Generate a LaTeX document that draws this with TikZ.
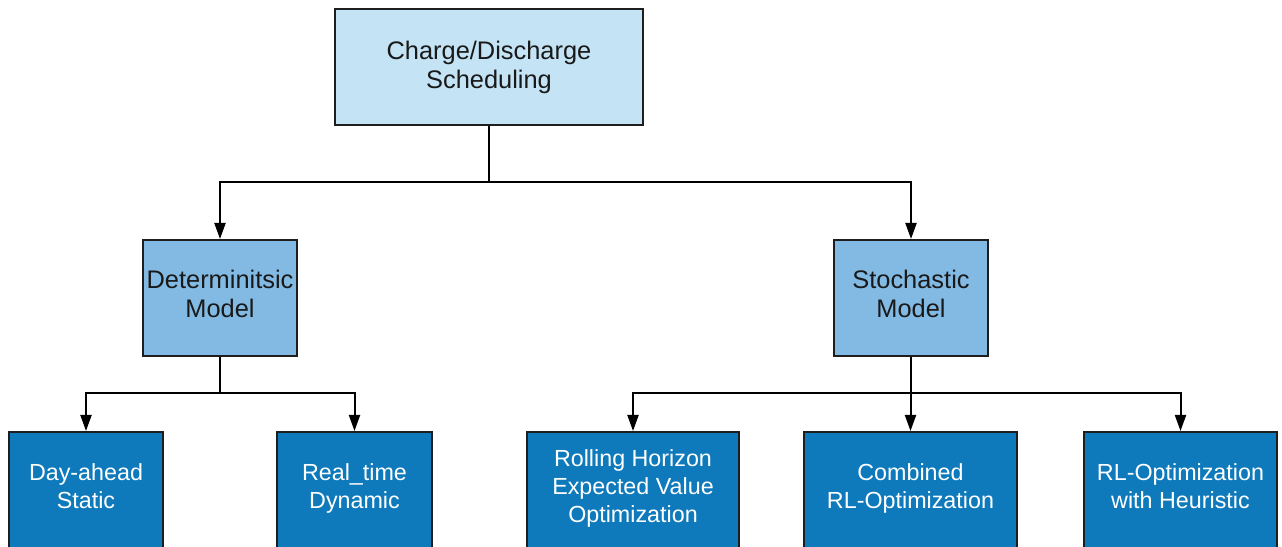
\documentclass[tikz,border=0pt]{standalone}
\usepackage{fontspec}
\setmainfont{Liberation Sans}
\usetikzlibrary{arrows.meta}
\definecolor{topfill}{RGB}{196,228,245}
\definecolor{midfill}{RGB}{131,186,228}
\definecolor{lowfill}{RGB}{14,122,188}
\definecolor{edge}{RGB}{30,30,30}
\newcommand\liftup[2][1.5pt]{\raisebox{#1}[\height][\depth]{\begin{tabular}{@{}c@{}}#2\end{tabular}}}
\tikzset{
  box/.style={draw=edge, line width=2pt, inner sep=0pt, align=center, minimum height=116pt},
  topbox/.style={box, fill=topfill, font=\fontsize{25.4}{29}\selectfont, text=black!90},
  midbox/.style={box, fill=midfill, font=\fontsize{25.4}{29.5}\selectfont, text=black!90},
  lowbox/.style={box, fill=lowfill, font=\fontsize{23.3}{28}\selectfont, text=white},
  conn/.style={draw=black, line width=2pt},
  arr/.style={conn, -{Triangle[length=16pt,width=11pt]}}
}
\begin{document}
\begin{tikzpicture}[x=1pt,y=1pt]
\useasboundingbox (0,0) rectangle (1282,546);
\clip (0,0) rectangle (1282,546);
\fill[white] (0,0) rectangle (1282,546);
\node[topbox, minimum width=308pt] (top) at (489,479) {Charge/Discharge\\Scheduling};
\node[midbox, minimum width=154pt] (det) at (220,248) {\liftup[1pt]{Determinitsic\\Model}};
\node[midbox, minimum width=154pt] (sto) at (911,248) {\liftup[1pt]{Stochastic\\Model}};
\node[lowbox, minimum width=154pt] (day) at (86,56) {\liftup{Day-ahead\\Static}};
\node[lowbox, minimum width=155pt] (real) at (354.5,56) {\liftup{Real\_time\\Dynamic}};
\node[lowbox, minimum width=212pt] (roll) at (633,56) {\liftup{Rolling Horizon\\Expected Value\\Optimization}};
\node[lowbox, minimum width=213pt] (comb) at (910.5,56) {\liftup{Combined\\RL-Optimization}};
\node[lowbox, minimum width=193pt] (rl) at (1180.5,56) {\liftup{RL-Optimization\\with Heuristic}};
\coordinate (j0) at (489,364);
\coordinate (j1) at (220,153);
\coordinate (j2) at (911,153);
\draw[conn] (top.south) -- (j0);
\draw[arr] (j0) -| (det.north);
\draw[arr] (j0) -| (sto.north);
\draw[conn] (det.south) -- (j1);
\draw[arr] (j1) -| (day.north);
\draw[arr] (j1) -| (real.north);
\draw[conn] (sto.south) -- (j2);
\draw[arr] (j2) -| (roll.north);
\draw[arr] (j2) -- (j2 -| comb.north) -- (comb.north);
\draw[arr] (j2) -| (rl.north);
\end{tikzpicture}
\end{document}
